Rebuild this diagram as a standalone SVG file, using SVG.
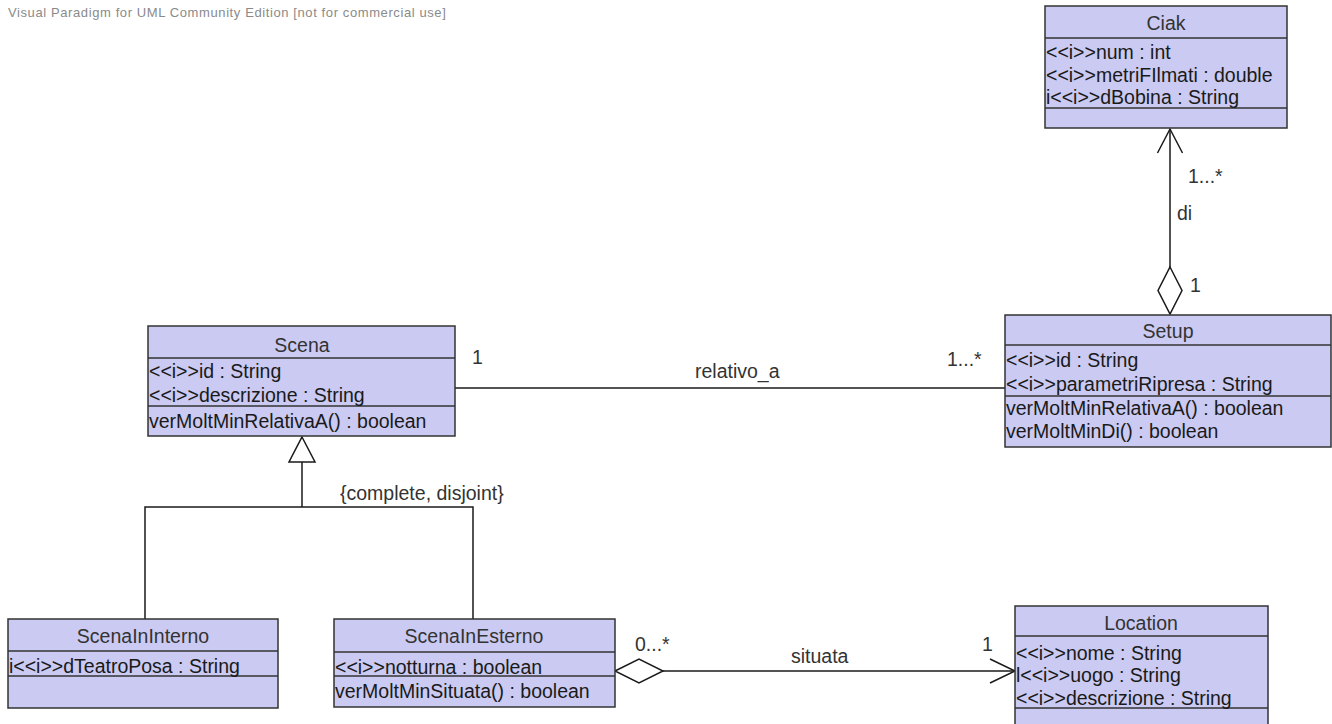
<svg xmlns="http://www.w3.org/2000/svg" width="1332" height="724" viewBox="0 0 1332 724">
<style>
.box{fill:#CACAF2;stroke:#333333;stroke-width:1.5}
.sep{stroke:#333333;stroke-width:1.5}
.t{font-family:"Liberation Sans",Arial,sans-serif;font-size:19.5px;fill:#1a1a1a}
.h{font-family:"Liberation Sans",Arial,sans-serif;font-size:19.5px;fill:#333333;text-anchor:middle}
.lbl{font-family:"Liberation Sans",Arial,sans-serif;font-size:19.5px;fill:#333333}
.ln{stroke:#1a1a1a;stroke-width:1.5;fill:none}
.wd{fill:#ffffff;stroke:#1a1a1a;stroke-width:1.5}
.wm{font-family:"Liberation Sans",Arial,sans-serif;font-size:13px;letter-spacing:0.6px;fill:#8a8a8a}
</style>
<rect width="1332" height="724" fill="#ffffff"/>
<text class="wm" x="8" y="17">Visual Paradigm for UML Community Edition [not for commercial use]</text>

<g id="connectors">
  <line class="ln" x1="1170" y1="129" x2="1170" y2="267"/>
  <polyline class="ln" points="1157.5,153 1170,129 1182.5,153"/>
  <polygon class="wd" points="1170,267 1182,290.5 1170,314 1158,290.5"/>
  <text class="lbl" x="1188" y="183">1...*</text>
  <text class="lbl" x="1177" y="220">di</text>
  <text class="lbl" x="1190" y="292">1</text>

  <line class="ln" x1="455" y1="388" x2="1005" y2="388"/>
  <text class="lbl" x="472" y="364">1</text>
  <text class="lbl" x="695" y="378">relativo_a</text>
  <text class="lbl" x="947" y="366">1...*</text>

  <polyline class="ln" points="302,462 302,507"/>
  <polyline class="ln" points="145,619 145,507 473,507 473,619"/>
  <polygon class="wd" points="302,437 315,462 289,462"/>
  <text class="lbl" x="340" y="500">{complete, disjoint}</text>

  <line class="ln" x1="663" y1="671" x2="1015" y2="671"/>
  <polygon class="wd" points="615,671 639,659 663,671 639,683"/>
  <polyline class="ln" points="990,659 1015,671 990,683"/>
  <text class="lbl" x="635" y="651">0...*</text>
  <text class="lbl" x="791" y="663">situata</text>
  <text class="lbl" x="982" y="651">1</text>
</g>

<g id="Ciak">
  <rect class="box" x="1045" y="6" width="242" height="122"/>
  <line class="sep" x1="1045" y1="38" x2="1287" y2="38"/>
  <line class="sep" x1="1045" y1="108" x2="1287" y2="108"/>
  <text class="h" x="1166" y="30">Ciak</text>
  <text class="t" x="1046" y="59">&lt;&lt;i&gt;&gt;num : int</text>
  <text class="t" x="1046" y="82">&lt;&lt;i&gt;&gt;metriFIlmati : double</text>
  <text class="t" x="1046" y="104">i&lt;&lt;i&gt;&gt;dBobina : String</text>
</g>

<g id="Scena">
  <rect class="box" x="148" y="326" width="307" height="110"/>
  <line class="sep" x1="148" y1="358" x2="455" y2="358"/>
  <line class="sep" x1="148" y1="406" x2="455" y2="406"/>
  <text class="h" x="302" y="352">Scena</text>
  <text class="t" x="149" y="378">&lt;&lt;i&gt;&gt;id : String</text>
  <text class="t" x="149" y="402">&lt;&lt;i&gt;&gt;descrizione : String</text>
  <text class="t" x="149" y="428">verMoltMinRelativaA() : boolean</text>
</g>

<g id="Setup">
  <rect class="box" x="1005" y="315" width="326" height="132"/>
  <line class="sep" x1="1005" y1="345" x2="1331" y2="345"/>
  <line class="sep" x1="1005" y1="396" x2="1331" y2="396"/>
  <text class="h" x="1168" y="338">Setup</text>
  <text class="t" x="1006" y="367">&lt;&lt;i&gt;&gt;id : String</text>
  <text class="t" x="1006" y="391">&lt;&lt;i&gt;&gt;parametriRipresa : String</text>
  <text class="t" x="1006" y="415">verMoltMinRelativaA() : boolean</text>
  <text class="t" x="1006" y="438">verMoltMinDi() : boolean</text>
</g>

<g id="ScenaInInterno">
  <rect class="box" x="8" y="619" width="270" height="89"/>
  <line class="sep" x1="8" y1="651" x2="278" y2="651"/>
  <line class="sep" x1="8" y1="676" x2="278" y2="676"/>
  <text class="h" x="143" y="643">ScenaInInterno</text>
  <text class="t" x="9" y="673">i&lt;&lt;i&gt;&gt;dTeatroPosa : String</text>
</g>

<g id="ScenaInEsterno">
  <rect class="box" x="334" y="619" width="281" height="88"/>
  <line class="sep" x1="334" y1="652" x2="615" y2="652"/>
  <line class="sep" x1="334" y1="676" x2="615" y2="676"/>
  <text class="h" x="474" y="643">ScenaInEsterno</text>
  <text class="t" x="335" y="674">&lt;&lt;i&gt;&gt;notturna : boolean</text>
  <text class="t" x="335" y="698">verMoltMinSituata() : boolean</text>
</g>

<g id="Location">
  <rect class="box" x="1015" y="606" width="253" height="124"/>
  <line class="sep" x1="1015" y1="636" x2="1268" y2="636"/>
  <line class="sep" x1="1015" y1="708" x2="1268" y2="708"/>
  <text class="h" x="1141" y="630">Location</text>
  <text class="t" x="1016" y="660">&lt;&lt;i&gt;&gt;nome : String</text>
  <text class="t" x="1016" y="682">l&lt;&lt;i&gt;&gt;uogo : String</text>
  <text class="t" x="1016" y="705">&lt;&lt;i&gt;&gt;descrizione : String</text>
</g>
</svg>
